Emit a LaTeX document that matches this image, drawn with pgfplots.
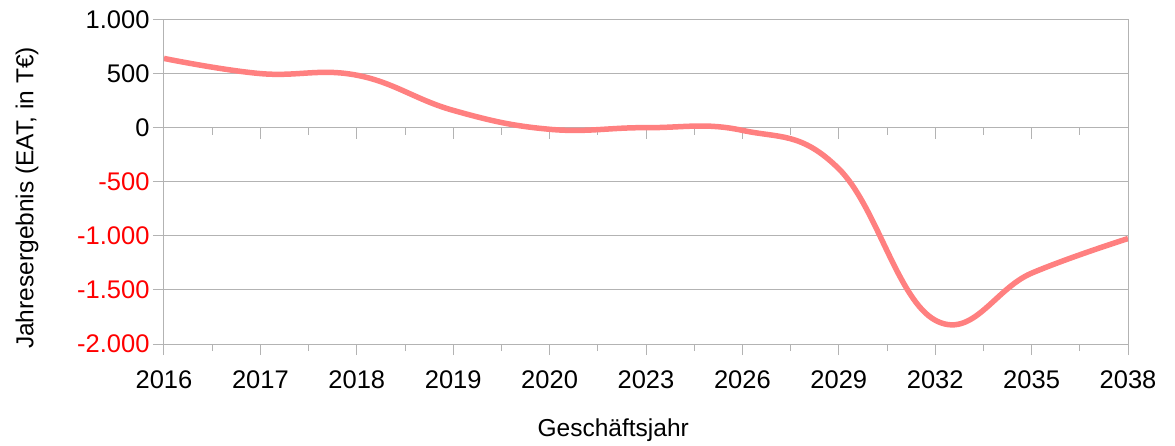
\documentclass[border=0pt]{standalone}
\usepackage{pgfplots}
\pgfplotsset{compat=1.18}
\usepackage{fontspec}
\setmainfont{Liberation Sans}
\definecolor{linered}{HTML}{FF8080}
\definecolor{gridc}{HTML}{B3B3B3}
\definecolor{negred}{HTML}{FF0000}
\begin{document}
\begin{tikzpicture}
\useasboundingbox (-164pt,-101pt) rectangle (1011pt,344pt);
% ticks along the zero line
\begin{axis}[
  at={(0pt,216.33pt)}, anchor=south west,
  scale only axis, width=964pt, height=108.17pt,
  xmin=0, xmax=10, ymin=0, ymax=1,
  axis x line*=bottom, hide y axis,
  x axis line style={gridc, line width=1pt, -},
  xtick={0,...,10}, xticklabels={},
  minor xtick={0.5,1.5,...,9.5},
  tick style={gridc, line width=1pt},
  tick align=outside,
  major tick length=11pt, minor tick length=7pt,
]
\end{axis}
\begin{axis}[
  at={(0pt,0pt)}, anchor=south west,
  scale only axis, width=964pt, height=324.5pt,
  xmin=0, xmax=10, ymin=-2000, ymax=1000,
  xtick={0,...,10},
  xticklabels={2016,2017,2018,2019,2020,2023,2026,2029,2032,2035,2038},
  minor xtick={0.5,1.5,...,9.5},
  ytick={-2000,-1500,-1000,-500,0,500,1000},
  yticklabels={{\color{negred}-2.000},{\color{negred}-1.500},{\color{negred}-1.000},{\color{negred}-500},0,500,1.000},
  ymajorgrids, grid style={gridc, line width=1pt},
  axis line style={gridc, line width=1pt},
  tick style={gridc, line width=1pt},
  tick align=outside,
  major tick length=11pt, minor tick length=7pt,
  xtick pos=bottom, ytick pos=left,
  ticklabel style={font=\fontsize{25.5}{30}\selectfont, text=black},
  xticklabel style={anchor=base, yshift=-33pt},
  yticklabel style={anchor=east},
  xlabel={Geschäftsjahr}, ylabel={Jahresergebnis (EAT, in T€)},
  label style={font=\fontsize{24.5}{29}\selectfont},
  xlabel style={at={(axis description cs:0.466,-0.2857)}, anchor=base},
  ylabel style={at={(axis description cs:-0.1421,0.45)}, anchor=center},
]
\addplot[linered, line width=5.5pt, smooth, tension=0.7, no markers] coordinates {
  (0,640) (1,500) (2,485) (3,160) (4,-15) (5,0) (6,-25) (7,-380) (8,-1780) (9,-1345) (10,-1025)
};
\end{axis}
\end{tikzpicture}
\end{document}
